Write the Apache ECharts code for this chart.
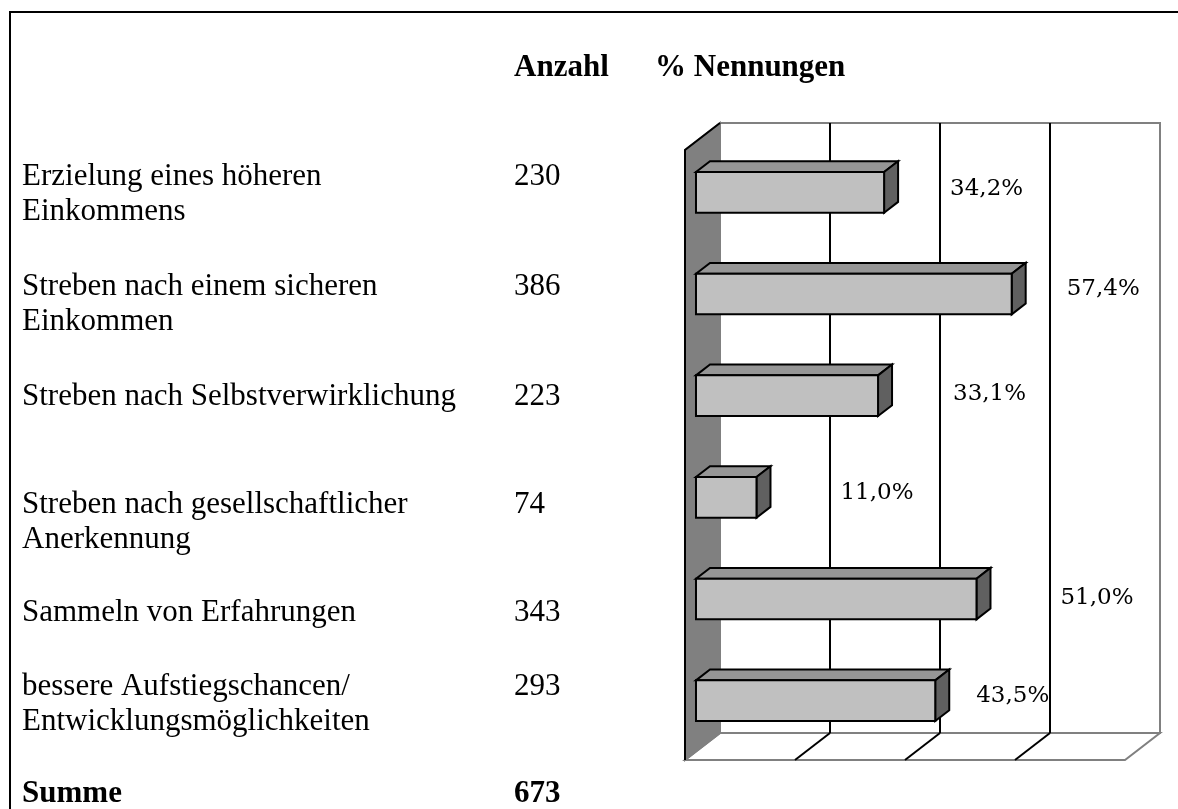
<!DOCTYPE html>
<html><head><meta charset="utf-8">
<script src="https://cdn.jsdelivr.net/npm/echarts@6/dist/echarts.min.js"></script>
<style>html,body{margin:0;padding:0;background:#fff}#c{width:1178px;height:809px}</style>
</head><body><div id="c"></div>
<script>
// ---------- data ----------
const CATEGORIES = [
  "Erzielung eines höheren\nEinkommens",
  "Streben nach einem sicheren\nEinkommen",
  "Streben nach Selbstverwirklichung",
  "Streben nach gesellschaftlicher\nAnerkennung",
  "Sammeln von Erfahrungen",
  "bessere Aufstiegschancen/\nEntwicklungsmöglichkeiten"
];
const COUNTS = [230, 386, 223, 74, 343, 293];
const PERCENTS = [34.2, 57.4, 33.1, 11.0, 51.0, 43.5];
const TOTAL_LABEL = "Summe";
const TOTAL = 673;
const HEADERS = ["Anzahl", "% Nennungen"];
const X_TICKS = [0, 20, 40, 60, 80];

// ---------- layout / style ----------
const ROW_Y = [177, 287, 397, 505, 613, 687];
const LINE_GAP = 35;
const TEXT_X = 22, NUM_X = 514, HEAD2_X = 655, HEAD_Y = 68, SUM_Y = 794;
const LABEL_DX = [66, 55, 75, 84, 84, 41];
const LABEL_DY = [-3, -4.5, -1.5, -4.5, -1, -5];
const DEPTH = [-35, 27];
const F_FRONT = 0.686, F_BACK = 0.286, BAR_FRAC = 0.4;
const SERIF = '"Liberation Serif", "Times New Roman", serif';
const LABEL_FONT = '23px "DejaVu Serif", serif';

const chart = echarts.init(document.getElementById('c'), null, {renderer: 'canvas'});

function txt(s, x, y, bold) {
  return {type: 'text', x: x, y: y, silent: true,
    style: {text: s, font: (bold ? 'bold ' : '') + '31px ' + SERIF, fill: '#000',
      textAlign: 'left', textVerticalAlign: 'middle'}};
}
const graphics = [];
graphics.push({type: 'polyline', silent: true,
  shape: {points: [[10, 820], [10, 12], [1190, 12]]},
  style: {stroke: '#000', lineWidth: 2, fill: null}});
graphics.push(txt(HEADERS[0], NUM_X, HEAD_Y, true));
graphics.push(txt(HEADERS[1], HEAD2_X, HEAD_Y, true));
CATEGORIES.forEach((c, i) => {
  c.split('\n').forEach((line, k) => graphics.push(txt(line, TEXT_X, ROW_Y[i] + k * LINE_GAP, false)));
  graphics.push(txt(String(COUNTS[i]), NUM_X, ROW_Y[i], false));
});
graphics.push(txt(TOTAL_LABEL, TEXT_X, SUM_Y, true));
graphics.push(txt(String(TOTAL), NUM_X, SUM_Y, true));

function renderFrame(params, api) {
  const cs = params.coordSys;
  const L = cs.x, T = cs.y, R = cs.x + cs.width, B = cs.y + cs.height;
  const dx = DEPTH[0], dy = DEPTH[1];
  const ch = [];
  ch.push({type: 'rect', shape: {x: L, y: T, width: R - L, height: B - T},
    style: {fill: '#fff', stroke: '#808080', lineWidth: 2}});
  ch.push({type: 'polygon', shape: {points: [[L, B], [R, B], [R + dx, B + dy], [L + dx, B + dy]]},
    style: {fill: '#fff', stroke: '#808080', lineWidth: 2}});
  ch.push({type: 'polygon', shape: {points: [[L, T], [L, B], [L + dx, B + dy], [L + dx, T + dy]]},
    style: {fill: '#808080', stroke: '#808080', lineWidth: 2}});
  ch.push({type: 'polyline', shape: {points: [[L + dx, B + dy], [L + dx, T + dy], [L, T]]},
    style: {fill: null, stroke: '#000', lineWidth: 2}});
  X_TICKS.slice(1, -1).forEach(t => {
    const x = api.coord([t, 0])[0];
    ch.push({type: 'line', shape: {x1: x, y1: T, x2: x, y2: B}, style: {stroke: '#000', lineWidth: 2}});
    ch.push({type: 'line', shape: {x1: x, y1: B, x2: x + dx, y2: B + dy}, style: {stroke: '#000', lineWidth: 2}});
  });
  return {type: 'group', children: ch};
}

function renderBar(params, api) {
  const v = api.value(0), i = api.value(1);
  const p0 = api.coord([0, i]), p1 = api.coord([v, i]);
  const band = api.size([0, 1])[1];
  const h = band * BAR_FRAC;
  const dx = DEPTH[0], dy = DEPTH[1];
  const x0 = p0[0] + F_FRONT * dx, x1 = p1[0] + F_FRONT * dx;
  const yc = p0[1] + F_FRONT * dy;
  const yT = yc - h / 2, yB = yc + h / 2;
  const bx = (F_BACK - F_FRONT) * dx, by = (F_BACK - F_FRONT) * dy;
  const st = {stroke: '#000', lineWidth: 2, lineJoin: 'miter'};
  const idx = params.dataIndex;
  return {type: 'group', children: [
    {type: 'polygon', shape: {points: [[x0, yT], [x1, yT], [x1 + bx, yT + by], [x0 + bx, yT + by]]},
      style: Object.assign({fill: '#969696'}, st)},
    {type: 'polygon', shape: {points: [[x1, yT], [x1 + bx, yT + by], [x1 + bx, yB + by], [x1, yB]]},
      style: Object.assign({fill: '#606060'}, st)},
    {type: 'rect', shape: {x: x0, y: yT, width: x1 - x0, height: h},
      style: Object.assign({fill: '#c0c0c0'}, st)},
    {type: 'text', style: {text: v.toFixed(1).replace('.', ',') + '%',
      x: x1 + LABEL_DX[idx], y: yc + LABEL_DY[idx], font: LABEL_FONT, fill: '#000',
      textAlign: 'left', textVerticalAlign: 'middle'}}
  ]};
}

chart.setOption({
  animation: false,
  backgroundColor: '#fff',
  grid: {left: 720, top: 123, width: 440, height: 610, containLabel: false},
  xAxis: {type: 'value', min: 0, max: 80, interval: 20, show: false, splitLine: {show: false}},
  yAxis: {type: 'category', data: CATEGORIES, inverse: true, show: false},
  graphic: graphics,
  series: [
    {type: 'custom', name: 'frame', renderItem: renderFrame, data: [[0, 0]], silent: true, z: 1,
      encode: {x: 0, y: 1}},
    {type: 'custom', name: '% Nennungen', renderItem: renderBar, z: 2,
      data: PERCENTS.map((v, i) => [v, i]), encode: {x: 0, y: 1}}
  ]
});
</script></body></html>
